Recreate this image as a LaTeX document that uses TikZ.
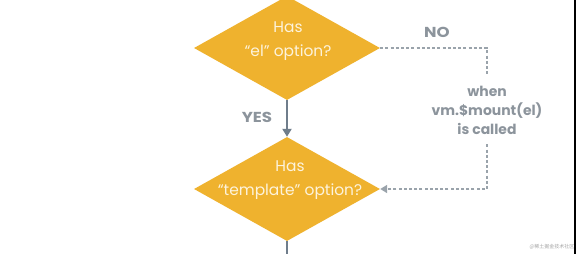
\documentclass[tikz,border=0pt]{standalone}
\usepackage{fontspec}
\setmainfont{Poppins}
\newfontfamily\labelfont[FakeStretch=1.15]{Poppins}
\newfontfamily\cjkfont{Noto Sans CJK SC}
\usetikzlibrary{shapes.geometric,arrows.meta}
\definecolor{gold}{HTML}{EFB22E}
\definecolor{paletext}{HTML}{FDF3DC}
\definecolor{labelgray}{HTML}{8C949C}
\definecolor{linegray}{HTML}{6F7D8B}
\definecolor{dashgray}{HTML}{9AA3AB}
\begin{document}
\begin{tikzpicture}[x=1bp,y=-1bp,
  decision/.style={shape=diamond,fill=gold,inner sep=0pt,
    minimum width=186bp,minimum height=104bp},
  qtext/.style={text=paletext,font=\fontsize{15.5}{23.5}\selectfont,align=center},
  answer/.style={text=labelgray,font=\labelfont\fontsize{14.5}{16}\selectfont\bfseries},
  flow/.style={draw=linegray,line width=2bp},
  altflow/.style={draw=dashgray,line width=1.6bp,dash pattern=on 3bp off 2.2bp}]
  \useasboundingbox[fill=white] (0,0) rectangle (576,254);

  % decisions
  \node[decision] (d1) at (287,48) {};
  \node[qtext] (t1) at (288,41) {Has\\“el” option?};
  \node[decision] (d2) at (287,189) {};
  \node[qtext] (t2) at (290,180) {Has\\“template” option?};

  % main path
  \draw[flow,-{Triangle[length=8bp,width=9bp]}] (d1.south) -- (d2.north);
  \coordinate (out) at (287,254);
  \draw[flow] (d2.south) -- (out);
  \node[answer] (yes) at (257,117) {YES};

  % deferred path
  \node[text=labelgray,font=\fontsize{14}{19}\selectfont\bfseries,align=center,
        inner sep=10bp] (w) at (487,110) {when\\vm.\$mount(el)\\is called};
  \node[answer] (no) at (437,32) {NO};
  \draw[altflow] (d1.east) -| (w.north);
  \draw[altflow,-{Triangle[length=7bp,width=8bp]}] (w.south) |- (d2.east);

  % corner mark and edge
  \node[text=gray!70,font=\cjkfont\fontsize{5}{6}\selectfont] (wm) at (552,247) {@稀土掘金技术社区};
  \fill[black] (573.5,0) rectangle (576,254);
\end{tikzpicture}
\end{document}
